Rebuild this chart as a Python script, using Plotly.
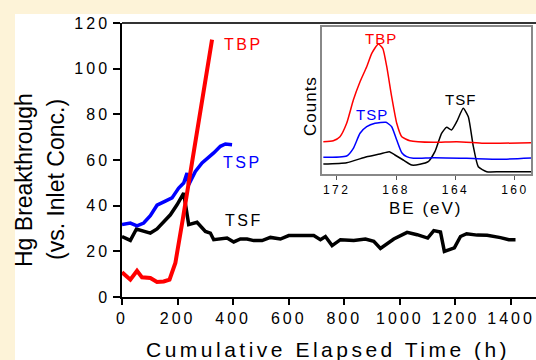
import plotly.graph_objects as go

# ---------------- data ----------------
tbp_time = [0, 30, 54, 72, 102, 126, 150, 171, 192, 206, 220, 324]
tbp_val = [10.8, 7.6, 11.5, 8.6, 8.3, 6.6, 6.8, 7.6, 14.9, 25, 35, 112.7]

tsp_time = [0, 30, 54, 78, 102, 126, 156, 180, 204, 222, 234, 240, 264, 288, 330, 354, 372, 396]
tsp_val = [31.7, 32.4, 31.2, 32.4, 35.6, 40.2, 42, 43.4, 47.7, 49.9, 54.3, 49.2, 55, 58.7, 63.1, 66, 67, 66.7]

tsf_time = [0, 30, 52, 78, 102, 126, 150, 174, 198, 222, 240, 270, 300, 318, 330, 354, 378, 402,
            426, 450, 474, 504, 534, 570, 600, 642, 690, 714, 732, 756, 786, 834, 876, 906, 930,
            978, 1026, 1062, 1100, 1122, 1146, 1160, 1196, 1218, 1240, 1278, 1314, 1362, 1392, 1416]
tsf_val = [26.5, 24.8, 29.8, 28.7, 28, 29.8, 33.1, 36, 40.4, 45.5, 31.7, 32.7, 28.7, 28, 25.1, 25.4,
           25.8, 24.1, 25.4, 25.4, 24.7, 24.7, 26.1, 25.4, 26.9, 26.9, 26.9, 25.1, 26.5, 22.5, 25.1,
           24.7, 25.4, 24.4, 21.3, 25.4, 28.3, 27.3, 25.8, 29.1, 28.5, 20, 21.5, 26.5, 27.7, 27.1,
           27.0, 26, 25.1, 25.1]

x_ticks = [0, 200, 400, 600, 800, 1000, 1200, 1400]
y_ticks = [0, 20, 40, 60, 80, 100, 120]

# inset XPS spectra (binding energy, eV ; counts, arb.)
xps_tbp_be = [172.9, 172.23, 171.78, 171.33, 170.88, 170.43, 169.98, 169.64, 169.2, 168.9, 168.63,
              168.3, 167.96, 167.62, 167.07, 165.49, 163.92, 162.13, 161.0, 158.92]
xps_tbp_ct = [32.3, 33.3, 37.3, 50.7, 74, 92.3, 107.3, 120.7, 130, 125.7, 107.3, 77.3, 50.7, 37.3,
              33.3, 31.7, 32.3, 30.7, 30.7, 31.3]
xps_tsp_be = [172.9, 171.33, 170.88, 170.43, 169.98, 169.42, 168.68, 168.3, 167.96, 167.62, 167.29,
              166.84, 165.49, 163.25, 161.0, 158.92]
xps_tsp_ct = [16.7, 18, 25.7, 40.7, 47.3, 50.7, 51.7, 47.3, 34, 21.3, 17.3, 15.7, 16.3, 15.7, 14.7, 16]
xps_tsf_be = [172.9, 171.33, 169.98, 169.09, 168.46, 168.08, 167.52, 166.95, 166.4, 165.84, 165.39,
              164.94, 164.6, 164.27, 163.92, 163.48, 163.14, 162.8, 162.47, 161.9, 161.0, 158.92]
xps_tsf_ct = [10, 11.3, 17.3, 20, 22.3, 19, 14, 9, 9.7, 12.3, 22.3, 40.7, 46.7, 44, 52.3, 65.7, 57.3,
              27.3, 7.3, 2.3, 2.3, 2.3]
be_ticks = [172, 168, 164, 160]

RED, BLUE, BLACK = "#ff0000", "#0000ff", "#000000"
FONT = "Arial, Liberation Sans, sans-serif"
CREAM = "#fdf3d8"

# pixel layout helpers
L, R, T, B = 122, 0, 23, 63
W, H = 536, 360
PW, PH = W - L - R, H - T - B


def px_x(px):
    return (px - L) / PW


def px_y(py):
    return (H - B - py) / PH


def sp(text, ls):
    return '<span style="letter-spacing:%spx">%s</span>' % (ls, text)


fig = go.Figure()

fig.add_trace(go.Scatter(x=tsf_time, y=tsf_val, mode="lines", line=dict(color=BLACK, width=3.5),
                         showlegend=False, hoverinfo="skip"))
fig.add_trace(go.Scatter(x=tsp_time, y=tsp_val, mode="lines", line=dict(color=BLUE, width=3.5),
                         showlegend=False, hoverinfo="skip"))
fig.add_trace(go.Scatter(x=tbp_time, y=tbp_val, mode="lines", line=dict(color=RED, width=4),
                         showlegend=False, hoverinfo="skip"))

# inset
for be, ct, col in [(xps_tsf_be, xps_tsf_ct, BLACK), (xps_tsp_be, xps_tsp_ct, BLUE),
                    (xps_tbp_be, xps_tbp_ct, RED)]:
    fig.add_trace(go.Scatter(x=be, y=ct, xaxis="x2", yaxis="y2", mode="lines",
                             line=dict(color=col, width=1.5, shape="spline", smoothing=0.5),
                             showlegend=False, hoverinfo="skip"))

fig.update_layout(
    width=W, height=H,
    margin=dict(l=L, r=R, t=T, b=B, pad=0),
    paper_bgcolor=CREAM, plot_bgcolor="white",
    font=dict(family=FONT, color="black"),
    xaxis=dict(range=[0, PW / 0.2779], tickvals=x_ticks,
               ticktext=[sp(str(v), 3) for v in x_ticks], tickfont=dict(size=16),
               showgrid=False, zeroline=False, showline=True, linecolor="black", linewidth=1.5,
               ticks="outside", ticklen=6, tickwidth=1.5, tickcolor="black"),
    yaxis=dict(range=[0, 120], tickvals=y_ticks,
               ticktext=[sp(str(v), 3) for v in y_ticks], tickfont=dict(size=16),
               showgrid=False, zeroline=False, showline=True, linecolor="black", linewidth=1.5,
               ticks="outside", ticklen=7, tickwidth=1.5, tickcolor="black"),
    xaxis2=dict(domain=[px_x(322), px_x(531)], anchor="y2", range=[172.99, 158.92],
                tickvals=be_ticks, ticktext=[sp(str(v), 2.5) for v in be_ticks],
                tickfont=dict(size=12), showgrid=False, zeroline=False, showline=True,
                mirror=True, linecolor="#888888", linewidth=1.5, ticks="outside", ticklen=4,
                tickwidth=1, tickcolor="#555555"),
    yaxis2=dict(domain=[px_y(174), px_y(27)], anchor="x2", range=[0, 147],
                showticklabels=False, ticks="", showgrid=False, zeroline=False, showline=True,
                mirror=True, linecolor="#888888", linewidth=1.5),
    shapes=[
        dict(type="rect", xref="paper", yref="paper", x0=px_x(15), x1=px_x(560), y0=px_y(380),
             y1=px_y(14), fillcolor="white", line=dict(width=0), layer="below"),
        dict(type="line", xref="paper", yref="paper", x0=0, x1=1.1, y0=1, y1=1,
             line=dict(color="#333333", width=2)),
    ],
)

ann = []
# axis titles
ann.append(dict(text=sp("Cumulative Elapsed Time (h)", 3.5), x=px_x(328), y=px_y(349),
                font=dict(size=21)))
ann.append(dict(text="Hg Breakthrough", x=px_x(24), y=px_y(180), textangle=-90, font=dict(size=23)))
ann.append(dict(text="(vs. Inlet Conc.)", x=px_x(56), y=px_y(180), textangle=-90, font=dict(size=23)))
ann.append(dict(text=sp("BE (eV)", 2), x=px_x(426), y=px_y(208), font=dict(size=17)))
ann.append(dict(text=sp("Counts", 1), x=px_x(310), y=px_y(106), textangle=-90, font=dict(size=17)))
# series labels, main
ann.append(dict(text=sp("TBP", 2.5), x=px_x(243), y=px_y(44.5), font=dict(size=16, color=RED)))
ann.append(dict(text=sp("TSP", 2.5), x=px_x(242), y=px_y(162.5), font=dict(size=16, color=BLUE)))
ann.append(dict(text=sp("TSF", 2.5), x=px_x(244), y=px_y(220), font=dict(size=16, color=BLACK)))
# series labels, inset
ann.append(dict(text=sp("TBP", 1), x=px_x(380.5), y=px_y(38), font=dict(size=15, color=RED)))
ann.append(dict(text=sp("TSP", 1), x=px_x(372), y=px_y(114), font=dict(size=15, color=BLUE)))
ann.append(dict(text=sp("TSF", 1), x=px_x(460.5), y=px_y(99), font=dict(size=15, color=BLACK)))

for a in ann:
    a.update(xref="paper", yref="paper", showarrow=False, xanchor="center", yanchor="middle")
fig.update_layout(annotations=ann)

fig.write_html("out.html")
